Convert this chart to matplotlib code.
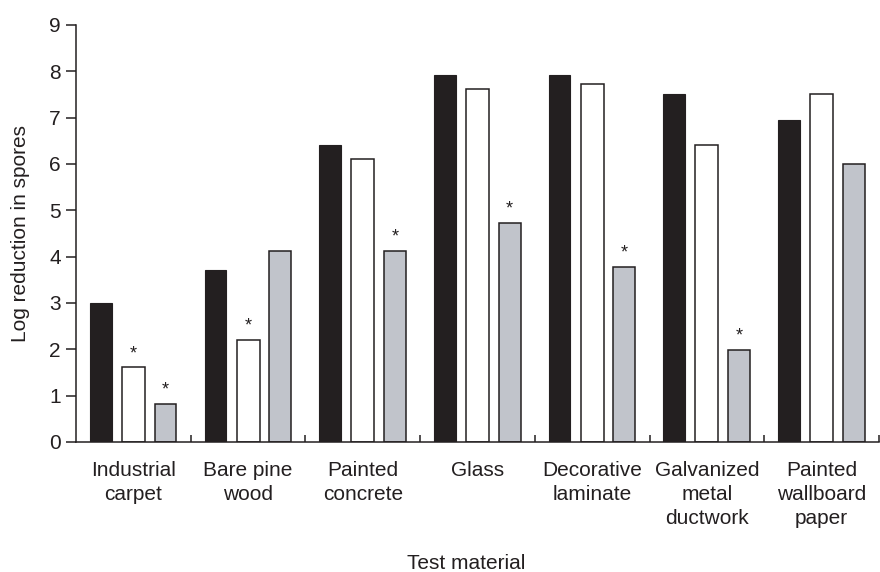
import numpy as np
import matplotlib
matplotlib.use("Agg")
import matplotlib.pyplot as plt

plt.rcParams['font.family'] = ['Liberation Sans', 'DejaVu Sans']

# ---------- Data ----------
materials = ["Industrial\ncarpet", "Bare pine\nwood", "Painted\nconcrete", "Glass",
             "Decorative\nlaminate", "Galvanized\nmetal\nductwork", "Painted\nwallboard\npaper"]
serie_preta = [3.0, 3.72, 6.4, 7.92, 7.92, 7.5, 6.94]
serie_branca = [1.61, 2.2, 6.1, 7.62, 7.73, 6.41, 7.5]
serie_cinza = [0.83, 4.13, 4.12, 4.72, 3.78, 1.98, 6.0]
# asterisks (significant) per series
sig_branca = [True, True, False, False, False, False, False]
sig_cinza = [True, False, True, True, True, True, False]

# ---------- Plot ----------
fig = plt.figure(figsize=(8.8, 5.72), dpi=100)
ax = fig.add_axes([0.0864, 0.2273, 0.9125, 0.729])

x = np.arange(len(materials))
escuro = '#231f20'
ax.bar(x - 0.285, serie_preta, width=0.19, color=escuro, edgecolor=escuro, linewidth=0.8)
ax.bar(x, serie_branca, width=0.2, color='white', edgecolor=escuro, linewidth=1.1)
ax.bar(x + 0.28, serie_cinza, width=0.19, color='#c1c4cb', edgecolor=escuro, linewidth=1.1)

for xi, v, s in zip(x, serie_branca, sig_branca):
    if s:
        ax.annotate('*', (xi, v), xytext=(0, 10), textcoords='offset points',
                    ha='center', va='center', fontsize=13, color=escuro)
for xi, v, s in zip(x + 0.28, serie_cinza, sig_cinza):
    if s:
        ax.annotate('*', (xi, v), xytext=(0, 10), textcoords='offset points',
                    ha='center', va='center', fontsize=13, color=escuro)

ax.set_xlim(-0.5, len(materials) - 0.5)
ax.set_ylim(0, 9)
ax.set_yticks(range(10))
ax.set_xticks(x)
ax.set_xticklabels(materials, fontsize=15, linespacing=1.33)
ax.set_xticks(np.arange(0.5, len(materials), 1.0), minor=True)
ax.tick_params(axis='x', which='major', length=0, pad=14, colors=escuro)
ax.tick_params(axis='x', which='minor', direction='in', length=5, width=1.1, color=escuro)
ax.tick_params(axis='y', labelsize=15, length=7, width=1.1, pad=4, colors=escuro)

for lado in ['top', 'right']:
    ax.spines[lado].set_visible(False)
for lado in ['left', 'bottom']:
    ax.spines[lado].set_linewidth(1.1)
    ax.spines[lado].set_color(escuro)

ax.set_ylabel("Log reduction in spores", fontsize=15, color=escuro)
ax.yaxis.set_label_coords(-0.057, 0.5)
ax.set_xlabel("Test material", fontsize=15, color=escuro)
ax.xaxis.set_label_coords(0.486, -0.268)

plt.savefig("out.png", dpi=100)
